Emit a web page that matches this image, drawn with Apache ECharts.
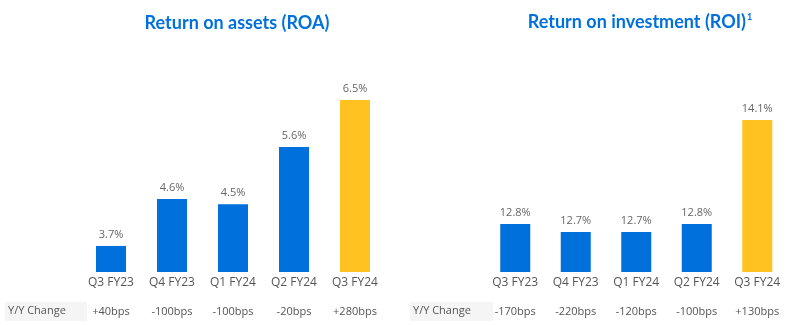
<!DOCTYPE html>
<html><head><meta charset="utf-8">
<script src="https://cdn.jsdelivr.net/npm/echarts@6/dist/echarts.min.js"></script>
<style>html,body{margin:0;padding:0;background:#fff}#c{width:794px;height:325px}</style>
</head><body><div id="c"></div>
<script>
const categories = ['Q3 FY23','Q4 FY23','Q1 FY24','Q2 FY24','Q3 FY24'];
const roaValues = [3.7, 4.6, 4.5, 5.6, 6.5];
const roiValues = [12.8, 12.7, 12.7, 12.8, 14.1];
const roaYoY = ['+40bps','-100bps','-100bps','-20bps','+280bps'];
const roiYoY = ['-170bps','-220bps','-120bps','-100bps','+130bps'];
const blue = '#0071dc', yellow = '#ffc220';
function colored(vals){ return vals.map((v,i)=>({value:v,itemStyle:{color:i===vals.length-1?yellow:blue}})); }
const labelFont = 'Open Sans';
const chart = echarts.init(document.getElementById('c'));
const catAxis = (gi) => ({type:'category',gridIndex:gi,data:categories,axisLine:{show:false},axisTick:{show:false},
  axisLabel:{margin:5,color:'#555',fontSize:12,fontFamily:labelFont}});
const yoyAxis = (gi,data) => ({type:'category',gridIndex:gi,data:data,position:'bottom',offset:29,axisLine:{show:false},axisTick:{show:false},
  axisLabel:{margin:5,color:'#555',fontSize:11,fontFamily:labelFont}});
chart.setOption({
  animation:false,
  title:[
    {text:'Return on assets (ROA)',left:232,top:9,textAlign:'center',textStyle:{color:blue,fontSize:18,fontWeight:'bold',fontFamily:'Lato'}},
    {text:'Return on investment (ROI){s|1}',left:635,top:8,textAlign:'center',textStyle:{color:blue,fontSize:18,fontWeight:'bold',fontFamily:'Lato',
      rich:{s:{fontSize:9,fontWeight:'bold',color:blue,fontFamily:'Lato',verticalAlign:'top',padding:[0,0,10,1]}}}}
  ],
  grid:[
    {left:80.5,width:305,top:100,bottom:53},
    {left:485,width:302.5,top:100,bottom:53}
  ],
  xAxis:[catAxis(0),catAxis(1),yoyAxis(0,roaYoY),yoyAxis(1,roiYoY)],
  yAxis:[
    {type:'value',gridIndex:0,min:3.2,max:6.5,show:false},
    {type:'value',gridIndex:1,min:12.2,max:14.35,show:false}
  ],
  graphic:[
    {type:'rect',shape:{x:5,y:302,width:82,height:19},style:{fill:'#f5f5f5'}},
    {type:'text',x:8,y:311,style:{text:'Y/Y Change',fill:'#555',font:'11px "Open Sans"',verticalAlign:'middle'}},
    {type:'rect',shape:{x:410,y:302,width:83,height:19},style:{fill:'#f5f5f5'}},
    {type:'text',x:413,y:311,style:{text:'Y/Y Change',fill:'#555',font:'11px "Open Sans"',verticalAlign:'middle'}}
  ],
  series:[
    {type:'bar',xAxisIndex:0,yAxisIndex:0,data:colored(roaValues),barWidth:30,
      label:{show:true,position:'top',distance:6,formatter:p=>p.value.toFixed(1)+'%',color:'#666',fontSize:11,fontFamily:labelFont}},
    {type:'bar',xAxisIndex:1,yAxisIndex:1,data:colored(roiValues),barWidth:30,
      label:{show:true,position:'top',distance:6,formatter:p=>p.value.toFixed(1)+'%',color:'#666',fontSize:11,fontFamily:labelFont}}
  ]
});
</script></body></html>
